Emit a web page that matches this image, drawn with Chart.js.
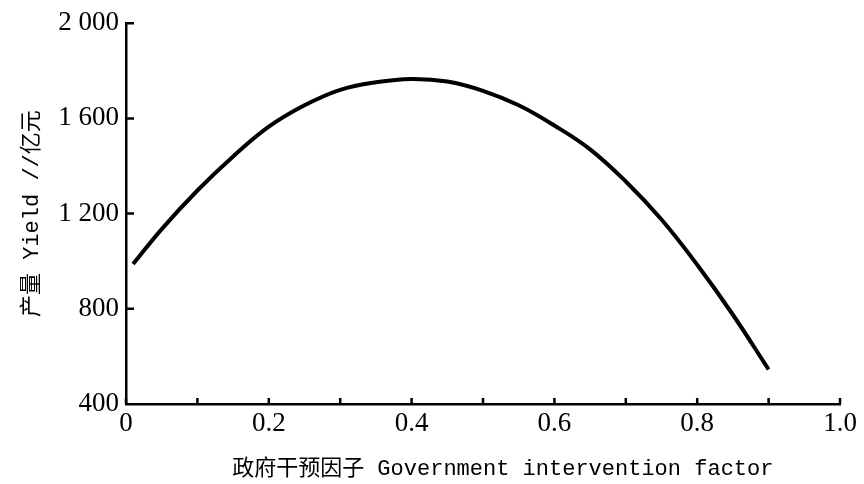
<!DOCTYPE html>
<html>
<head>
<meta charset="utf-8">
<script src="https://cdn.jsdelivr.net/npm/chart.js@4"></script>
<style>
  html, body { margin: 0; padding: 0; background: #fff; }
  #wrap { width: 864px; height: 484px; }
</style>
</head>
<body>
<div id="wrap"><canvas id="myChart" width="864" height="484"></canvas></div>
<script>
// values
const factor = [0.01, 0.05, 0.1, 0.15, 0.2, 0.25, 0.3, 0.35, 0.4, 0.45, 0.5, 0.55, 0.6, 0.65, 0.7, 0.75, 0.8, 0.85, 0.9];
const yieldValues = [988, 1135, 1297, 1440, 1565, 1655, 1720, 1752, 1766, 1755, 1716, 1655, 1570, 1470, 1335, 1175, 985, 775, 545];

const xTickValues = [0, 0.2, 0.4, 0.6, 0.8, 1.0];
const xTickLabels = ['0', '0.2', '0.4', '0.6', '0.8', '1.0'];
const yTickValues = [400, 800, 1200, 1600, 2000];
const yTickLabels = ['400', '800', '1 200', '1 600', '2 000'];

const xTitle = '政府干预因子 Government intervention factor';
const yTitle = '产量 Yield //亿元';

const tickFont = { family: '"Liberation Serif", serif', size: 27 };
const titleFont = { family: '"Liberation Mono", "Noto Sans CJK SC", monospace', size: 22 };

// ticks drawn inward from the axes, like the printed figure
const innerTicks = {
  id: 'innerTicks',
  afterDraw(chart) {
    const { ctx, chartArea, scales } = chart;
    ctx.save();
    ctx.strokeStyle = '#000';
    ctx.lineWidth = 2.5;
    ctx.beginPath();
    scales.x.ticks.forEach((t) => {
      const px = scales.x.getPixelForValue(t.value);
      ctx.moveTo(px, chartArea.bottom);
      ctx.lineTo(px, chartArea.bottom - 6);
    });
    scales.y.ticks.forEach((t) => {
      if (t.value === 400) return;
      const py = scales.y.getPixelForValue(t.value);
      ctx.moveTo(chartArea.left, py);
      ctx.lineTo(chartArea.left + 8, py);
    });
    ctx.stroke();
    ctx.restore();
  }
};

const ctx = document.getElementById('myChart').getContext('2d');

new Chart(ctx, {
  type: 'line',
  data: {
    datasets: [
      {
        data: factor.map((f, i) => ({ x: f, y: yieldValues[i] })),
        borderColor: '#000',
        borderWidth: 4,
        pointRadius: 0,
        tension: 0.4,
        fill: false,
      },
    ],
  },
  options: {
    responsive: false,
    animation: false,
    layout: { padding: { left: 10, top: 22, right: 24, bottom: 0 } },
    plugins: {
      legend: { display: false },
      tooltip: { enabled: false },
    },
    scales: {
      x: {
        type: 'linear',
        min: 0,
        max: 1,
        afterFit: (s) => { s.height = 80; },
        grid: { display: false, drawTicks: false },
        border: { display: true, color: '#000', width: 2.5 },
        ticks: {
          stepSize: 0.1,
          autoSkip: false,
          maxRotation: 0,
          padding: 4,
          color: '#000',
          font: tickFont,
          callback: (v) => {
            const i = xTickValues.findIndex((t) => Math.abs(t - v) < 1e-6);
            return i >= 0 ? xTickLabels[i] : '';
          },
        },
        title: {
          display: true,
          // leading spaces push the centred title right, as in the print
          text: '   ' + xTitle,
          color: '#000',
          font: titleFont,
          padding: 2,
        },
      },
      y: {
        min: 400,
        max: 2000,
        afterFit: (s) => { s.width = 116; },
        grid: { display: false, drawTicks: false },
        border: { display: true, color: '#000', width: 2.5 },
        ticks: {
          stepSize: 400,
          padding: 7,
          color: '#000',
          font: tickFont,
          callback: (v) => {
            const i = yTickValues.indexOf(v);
            return i >= 0 ? yTickLabels[i] : '';
          },
        },
        title: {
          display: true,
          text: yTitle,
          color: '#000',
          font: titleFont,
          padding: { top: 9, bottom: 0 },
        },
      },
    },
  },
  plugins: [innerTicks],
});
</script>
</body>
</html>
